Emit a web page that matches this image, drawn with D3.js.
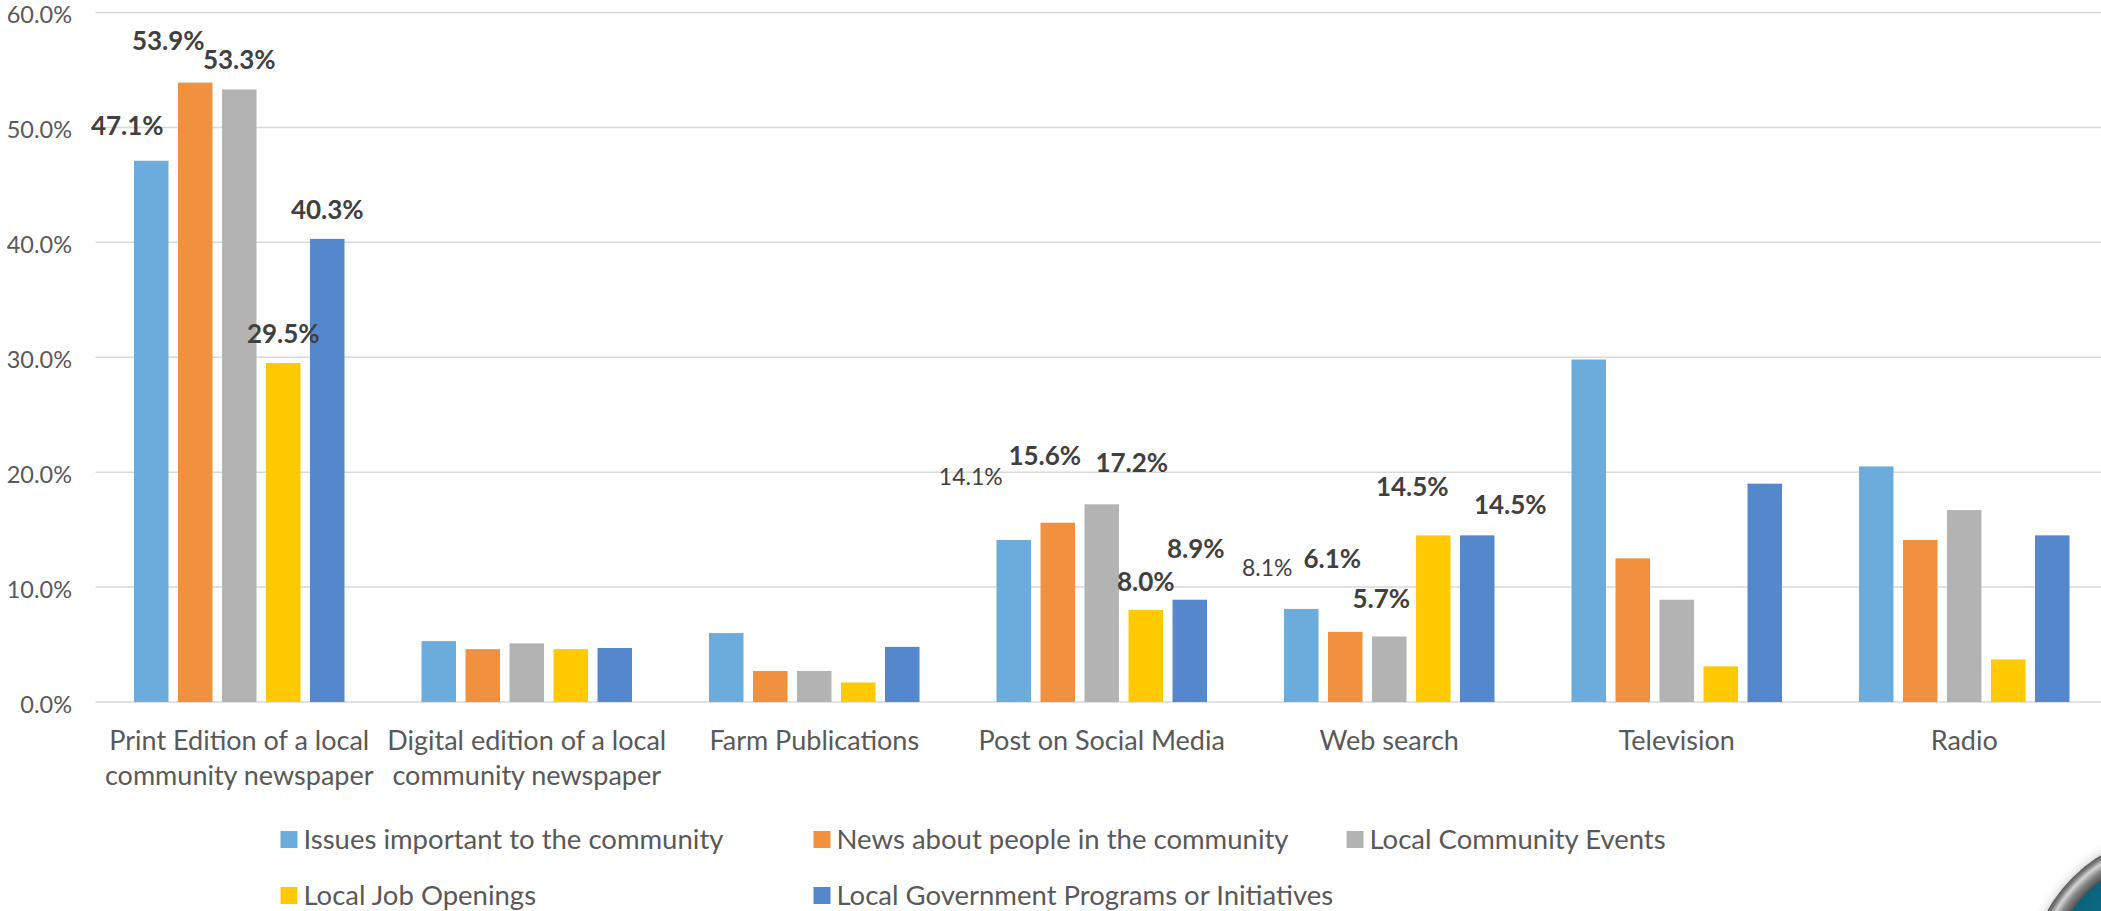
<!DOCTYPE html>
<html>
<head>
<meta charset="utf-8">
<script src="https://cdnjs.cloudflare.com/ajax/libs/d3/7.8.5/d3.min.js"></script>
<style>
  html, body { margin: 0; padding: 0; background: #ffffff; overflow: hidden; }
  svg { display: block; }
  text { font-family: Lato, "Open Sans", sans-serif; }
</style>
</head>
<body>
<svg id="chart" width="2101" height="911"></svg>
<script>
// ---------------- data ----------------
const categories = [
  ["Print Edition of a local", "community newspaper"],
  ["Digital edition of a local", "community newspaper"],
  ["Farm Publications"],
  ["Post on Social Media"],
  ["Web search"],
  ["Television"],
  ["Radio"]
];
const seriesNames = [
  "Issues important to the community",
  "News about people in the community",
  "Local Community Events",
  "Local Job Openings",
  "Local Government Programs or Initiatives"
];
const issuesImportant   = [47.1, 5.3, 6.0, 14.1, 8.1, 29.8, 20.5];
const newsAboutPeople   = [53.9, 4.6, 2.7, 15.6, 6.1, 12.5, 14.1];
const communityEvents   = [53.3, 5.1, 2.7, 17.2, 5.7, 8.9, 16.7];
const jobOpenings       = [29.5, 4.6, 1.7, 8.0, 14.5, 3.1, 3.7];
const governmentPrograms= [40.3, 4.7, 4.8, 8.9, 14.5, 19.0, 14.5];
const yTicks = [0, 10, 20, 30, 40, 50, 60];

// ---------------- layout / style (not data) ----------------
const colors = ["#6CACDC", "#F1913F", "#B3B3B3", "#FFC900", "#5587CD"];
// data-label placement, as manually arranged in the original: [catIndex, seriesIndex, dx, dy, bold]
const labelPlacement = [
  [0,0,-24,-26,true],[0,1,-27,-33,true],[0,2,0,-20,true],[0,3,0,-20,true],[0,4,0,-20,true],
  [3,0,-43,-55,false],[3,1,-13,-58,true],[3,2,30,-32,true],[3,3,0,-19,true],[3,4,6,-42,true],
  [4,0,-34,-33,false],[4,1,-13,-64,true],[4,2,-8,-28,true],[4,3,-21,-39,true],[4,4,33,-21,true]
];

const series = [issuesImportant, newsAboutPeople, communityEvents, jobOpenings, governmentPrograms];
const svg = d3.select("#chart");
const W = 2101, H = 911;
const plot = { left: 95.5, right: 2108, top: 12.5, bottom: 702 };

const x0 = d3.scaleBand().domain(d3.range(categories.length)).range([plot.left, plot.right]).padding(0);
const x1 = d3.scaleBand().domain(d3.range(series.length)).range([0, x0.bandwidth()])
  .paddingInner(0.216).paddingOuter(0.875);
const y = d3.scaleLinear().domain([0, 60]).range([plot.bottom, plot.top]);

// gridlines
const grid = svg.append("g");
grid.selectAll("line").data(yTicks).join("line")
  .attr("x1", plot.left).attr("x2", W)
  .attr("y1", d => y(d)).attr("y2", d => y(d))
  .attr("stroke", "#D9D9D9").attr("stroke-width", 1.5);

// y axis labels
const yAxis = d3.axisLeft(y).tickValues(yTicks).tickSize(0).tickPadding(0)
  .tickFormat(d => d3.format(".1f")(d) + "%");
const ya = svg.append("g").attr("transform", `translate(${72},0)`).call(yAxis);
ya.select(".domain").remove();
ya.selectAll("text").attr("font-family", "Lato, sans-serif").attr("font-size", 23.5)
  .attr("fill", "#595959").attr("dy", 10);

// bars
const groups = svg.append("g").selectAll("g").data(categories).join("g")
  .attr("transform", (d, i) => `translate(${x0(i)},0)`);
groups.selectAll("rect").data((d, i) => series.map((s, j) => ({ v: s[i], j })))
  .join("rect")
  .attr("x", d => x1(d.j)).attr("width", x1.bandwidth())
  .attr("y", d => y(d.v)).attr("height", d => y(0) - y(d.v))
  .attr("fill", d => colors[d.j]);

// data labels
svg.append("g").selectAll("text").data(labelPlacement).join("text")
  .attr("x", d => x0(d[0]) + x1(d[1]) + x1.bandwidth() / 2 + d[2])
  .attr("y", d => y(series[d[1]][d[0]]) + d[3])
  .attr("text-anchor", "middle")
  .attr("font-size", d => d[4] ? 26 : 23)
  .attr("font-weight", d => d[4] ? 700 : 400)
  .attr("fill", "#404040")
  .text(d => d3.format(".1f")(series[d[1]][d[0]]) + "%");

// category labels
const xAxis = svg.append("g");
categories.forEach((lines, i) => {
  const t = xAxis.append("text")
    .attr("x", x0(i) + x0.bandwidth() / 2).attr("y", 750)
    .attr("text-anchor", "middle").attr("font-size", 27).attr("fill", "#595959");
  lines.forEach((ln, k) => t.append("tspan")
    .attr("x", x0(i) + x0.bandwidth() / 2).attr("y", 750 + k * 35).text(ln));
});

// legend
const legendCols = [280.5, 813.5, 1346.5];
const legend = svg.append("g");
seriesNames.forEach((name, j) => {
  const col = j % 3, row = Math.floor(j / 3);
  const lx = legendCols[col], ly = 849 + row * 56;
  legend.append("rect").attr("x", lx).attr("y", ly - 18).attr("width", 17).attr("height", 17)
    .attr("fill", colors[j]);
  legend.append("text").attr("x", lx + 23).attr("y", ly)
    .attr("font-size", 27.5).attr("fill", "#595959").text(name);
});

// decorative logo fragment (bottom-right corner)
const defs = svg.append("defs");
const f = defs.append("filter").attr("id", "blur").attr("x", "-50%").attr("y", "-50%").attr("width", "200%").attr("height", "200%");
f.append("feGaussianBlur").attr("stdDeviation", 7);
const rg = defs.append("radialGradient").attr("id", "ring").attr("cx", "50%").attr("cy", "50%").attr("r", "50%");
rg.append("stop").attr("offset", "0.84").attr("stop-color", "#3a3a3a");
rg.append("stop").attr("offset", "0.91").attr("stop-color", "#858585");
rg.append("stop").attr("offset", "0.95").attr("stop-color", "#d4d4d4");
rg.append("stop").attr("offset", "0.98").attr("stop-color", "#7a7a7a");
rg.append("stop").attr("offset", "1").attr("stop-color", "#5a5a5a");
const tg = defs.append("radialGradient").attr("id", "teal").attr("cx", "40%").attr("cy", "40%").attr("r", "60%");
tg.append("stop").attr("offset", "0").attr("stop-color", "#0f7d9a");
tg.append("stop").attr("offset", "1").attr("stop-color", "#08506a");
svg.append("circle").attr("cx", 2184).attr("cy", 989).attr("r", 155).attr("fill", "#000").attr("opacity", 0.35).attr("filter", "url(#blur)");
svg.append("circle").attr("cx", 2180).attr("cy", 985).attr("r", 152).attr("fill", "url(#ring)");
svg.append("circle").attr("cx", 2180).attr("cy", 985).attr("r", 131).attr("fill", "url(#teal)");
</script>
</body>
</html>
